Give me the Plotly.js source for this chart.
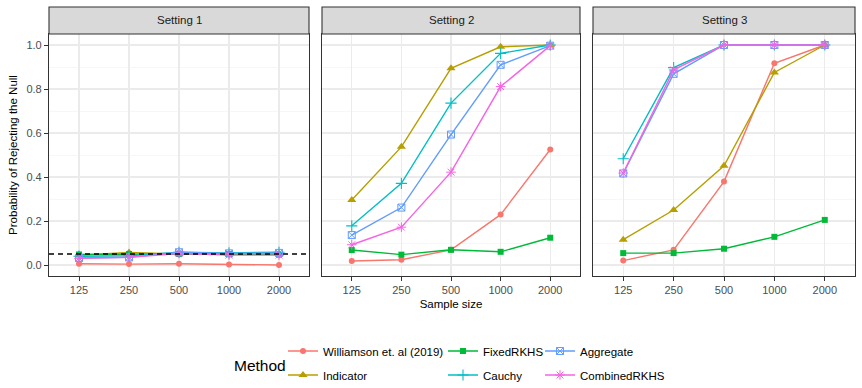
<!DOCTYPE html>
<html>
<head>
<meta charset="utf-8">
<script src="https://cdn.plot.ly/plotly-3.0.1.min.js"></script>
<style>
  html, body { margin: 0; padding: 0; background: #ffffff; }
  #chart { width: 862px; height: 388px; }
</style>
</head>
<body>
<div id="chart"></div>
<script>
// Sample sizes on the x axis (discrete)
const sampleSizes = ['125', '250', '500', '1000', '2000'];
const settings = ['Setting 1', 'Setting 2', 'Setting 3'];
const methods = ['Williamson et. al (2019)', 'Indicator', 'FixedRKHS', 'Cauchy', 'Aggregate', 'CombinedRKHS'];

// Rejection probabilities per method, one row per setting
const williamson = [
  [0.006, 0.004, 0.006, 0.002, 0.000],
  [0.018, 0.024, 0.069, 0.229, 0.525],
  [0.020, 0.069, 0.379, 0.917, 1.000]
];
const indicator = [
  [0.045, 0.057, 0.050, 0.050, 0.050],
  [0.295, 0.537, 0.894, 0.992, 1.000],
  [0.115, 0.250, 0.451, 0.875, 1.000]
];
const fixedRKHS = [
  [0.048, 0.050, 0.050, 0.050, 0.047],
  [0.068, 0.047, 0.069, 0.060, 0.124],
  [0.054, 0.054, 0.074, 0.128, 0.205]
];
const cauchy = [
  [0.040, 0.042, 0.058, 0.055, 0.058],
  [0.178, 0.371, 0.736, 0.962, 1.000],
  [0.483, 0.897, 1.000, 1.000, 1.000]
];
const aggregate = [
  [0.032, 0.035, 0.058, 0.053, 0.055],
  [0.136, 0.261, 0.593, 0.910, 0.997],
  [0.416, 0.869, 1.000, 1.000, 1.000]
];
const combinedRKHS = [
  [0.030, 0.035, 0.052, 0.045, 0.045],
  [0.092, 0.172, 0.422, 0.811, 0.997],
  [0.418, 0.887, 1.000, 1.000, 1.000]
];
const nominalLevel = 0.05;

const methodValues = [williamson, indicator, fixedRKHS, cauchy, aggregate, combinedRKHS];

// Styling
const colors = ['#F8766D', '#B79F00', '#00BA38', '#00BFC4', '#619CFF', '#F564E3'];
const symbols = ['circle', 'triangle-up', 'square', 'cross-thin-open', 'square-x-open', 'asterisk-open'];
const markerSizes = [6, 8, 6, 8, 7, 8];
const markerLineW = [0, 0, 0, 1.1, 1.0, 1.0];

// Panel geometry (paper fractions)
const W = 862, H = 388;
const mL = 49, mR = 7, mT = 34, mB = 112;
const plotW = W - mL - mR, plotH = H - mT - mB;
const px = v => (v - mL) / plotW;
const panelDomains = [[px(49), px(309)], [px(322), px(580)], [px(593), px(855)]];

const traces = [];
methods.forEach((m, mi) => {
  settings.forEach((s, si) => {
    traces.push({
      type: 'scatter',
      mode: 'lines+markers',
      x: sampleSizes,
      y: methodValues[mi][si],
      xaxis: si === 0 ? 'x' : 'x' + (si + 1),
      yaxis: si === 0 ? 'y' : 'y' + (si + 1),
      name: m,
      legendgroup: m,
      showlegend: si === 0,
      legend: mi === 0 ? 'legend' : 'legend' + (mi + 1),
      line: { color: colors[mi], width: 1.4 },
      marker: {
        color: colors[mi],
        symbol: symbols[mi],
        size: markerSizes[mi],
        line: { color: colors[mi], width: markerLineW[mi] }
      },
      cliponaxis: false
    });
  });
});

const tickFont = { family: 'Liberation Sans, Arial, sans-serif', size: 11, color: '#4D4D4D' };

function xAxis(i) {
  const ax = {
    domain: panelDomains[i],
    anchor: i === 0 ? 'y' : 'y' + (i + 1),
    type: 'category',
    categoryorder: 'array',
    categoryarray: sampleSizes,
    range: [-0.6, 4.6],
    showgrid: true,
    gridcolor: '#EBEBEB',
    gridwidth: 1.1,
    showline: true,
    mirror: true,
    linecolor: '#333333',
    linewidth: 1.1,
    ticks: 'outside',
    ticklen: 4,
    tickwidth: 1,
    tickcolor: '#333333',
    tickfont: tickFont,
    zeroline: false,
    fixedrange: true
  };
  if (i === 1) {
    ax.title = { text: 'Sample size', font: { family: 'Liberation Sans, Arial, sans-serif', size: 11.5, color: '#000000' }, standoff: 4 };
  }
  return ax;
}

function yAxis(i) {
  const ax = {
    domain: [0, 1],
    anchor: i === 0 ? 'x' : 'x' + (i + 1),
    range: [-0.05, 1.05],
    dtick: 0.2,
    tick0: 0,
    tickformat: '.1f',
    showgrid: true,
    gridcolor: '#EBEBEB',
    gridwidth: 1.1,
    minor: { dtick: 0.1, showgrid: true, gridcolor: '#F2F2F2', gridwidth: 0.6, ticks: '' },
    showline: true,
    mirror: true,
    linecolor: '#333333',
    linewidth: 1.1,
    zeroline: false,
    fixedrange: true
  };
  if (i === 0) {
    ax.ticks = 'outside';
    ax.ticklen = 4;
    ax.tickwidth = 1;
    ax.tickcolor = '#333333';
    ax.tickfont = tickFont;
    ax.title = { text: 'Probability of Rejecting the Null', font: { family: 'Liberation Sans, Arial, sans-serif', size: 11.5, color: '#000000' }, standoff: 6 };
  } else {
    ax.showticklabels = false;
    ax.ticks = '';
  }
  return ax;
}

// Facet strips and reference line
const stripTop = 1 + (mT - 7) / plotH;
const shapes = [];
const annotations = [];
settings.forEach((s, i) => {
  const xr = i === 0 ? 'x domain' : 'x' + (i + 1) + ' domain';
  shapes.push({
    type: 'rect', xref: xr, yref: 'paper',
    x0: 0, x1: 1, y0: 1, y1: stripTop,
    fillcolor: '#D9D9D9', line: { color: '#333333', width: 1.1 }, layer: 'above'
  });
  annotations.push({
    xref: xr, yref: 'paper', x: 0.5, y: (1 + stripTop) / 2,
    text: s, showarrow: false, xanchor: 'center', yanchor: 'middle',
    font: { family: 'Liberation Sans, Arial, sans-serif', size: 11.5, color: '#1A1A1A' }
  });
});
shapes.push({
  type: 'line', xref: 'x domain', yref: 'y',
  x0: 0, x1: 1, y0: nominalLevel, y1: nominalLevel,
  line: { color: '#000000', width: 1.4, dash: '5px,4px' }, layer: 'above'
});

// Legend title
annotations.push({
  xref: 'paper', yref: 'paper', x: px(232), y: -(365 - 276) / plotH,
  xanchor: 'left', yanchor: 'middle', showarrow: false, text: 'Method',
  font: { family: 'Liberation Sans, Arial, sans-serif', size: 15.5, color: '#000000' }
});

// One legend box per entry, arranged in a 3 x 2 grid
const legendFont = { family: 'Liberation Sans, Arial, sans-serif', size: 11.5, color: '#000000' };
const legendCols = [283, 443, 540];
const legendRows = [351, 375];
const legendCells = [[0, 0], [0, 1], [1, 0], [1, 1], [2, 0], [2, 1]];

const layout = {
  width: W, height: H,
  margin: { l: mL, r: mR, t: mT, b: mB, autoexpand: false },
  paper_bgcolor: '#FFFFFF',
  plot_bgcolor: '#FFFFFF',
  font: { family: 'Liberation Sans, Arial, sans-serif' },
  shapes: shapes,
  annotations: annotations,
  xaxis: xAxis(0), xaxis2: xAxis(1), xaxis3: xAxis(2),
  yaxis: yAxis(0), yaxis2: yAxis(1), yaxis3: yAxis(2)
};
legendCells.forEach((cell, k) => {
  const key = k === 0 ? 'legend' : 'legend' + (k + 1);
  layout[key] = {
    x: px(legendCols[cell[0]]), xanchor: 'left',
    y: -(legendRows[cell[1]] - 276) / plotH, yanchor: 'middle',
    orientation: 'v',
    bgcolor: 'rgba(0,0,0,0)',
    borderwidth: 0,
    font: legendFont,
    itemwidth: 30
  };
});

Plotly.newPlot('chart', traces, layout, { displayModeBar: false, staticPlot: true });
</script>
</body>
</html>
